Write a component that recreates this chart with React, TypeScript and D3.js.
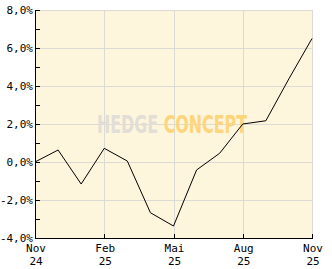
import React from "react";
import * as d3 from "d3";

const months = ["2024-11","2024-12","2025-01","2025-02","2025-03","2025-04","2025-05","2025-06","2025-07","2025-08","2025-09","2025-10","2025-11"];
const values = [0.0, 0.63, -1.16, 0.72, 0.05, -2.67, -3.37, -0.42, 0.46, 2.0, 2.17, 4.38, 6.5];
const yTicks = [-4, -2, 0, 2, 4, 6, 8];
const yMinorTicks = [-3, -1, 1, 3, 5, 7];
const xTickIdx = [0, 3, 6, 9, 12];
const xTickLabels = [["Nov", "24"], ["Feb", "25"], ["Mai", "25"], ["Aug", "25"], ["Nov", "25"]];

const W = 332, H = 269;
const L = 35, R = 312, T = 10, B = 238;

export default function App() {
  const x = d3.scaleLinear().domain([0, months.length - 1]).range([L, R]);
  const y = d3.scaleLinear().domain([-4, 8]).range([B, T]);
  const line = d3.line<number>().x((_, i) => x(i)).y((d) => y(d));
  const fmt = (v: number) => v.toFixed(1).replace(".", ",") + "%";
  const font = "'DejaVu Sans Mono', monospace";
  const grid = "#dcdad4";
  return (
    <svg width={W} height={H} style={{ position: "absolute", left: 0, top: 0 }}>
      <rect x={L} y={T} width={R - L} height={B - T} fill="#fef5dd" />
      {yTicks.map((t) => (
        <line key={"gy" + t} x1={L} x2={R} y1={Math.round(y(t)) + 0.5} y2={Math.round(y(t)) + 0.5} stroke={grid} />
      ))}
      {xTickIdx.map((i) => (
        <line key={"gx" + i} x1={Math.round(x(i)) + 0.5} x2={Math.round(x(i)) + 0.5} y1={T} y2={B} stroke={grid} />
      ))}
      <text x={97} y={133} fontFamily="'DejaVu Sans Condensed', 'DejaVu Sans'" fontWeight="bold" fontSize={25} textLength={150} lengthAdjust="spacingAndGlyphs">
        <tspan fill="#e2ded6">HEDGE</tspan>
        <tspan fill="#fdd57c">{" CONCEPT"}</tspan>
      </text>
      <path d={line(values) || ""} fill="none" stroke="#000" strokeWidth={1} />
      <line x1={L + 0.5} x2={L + 0.5} y1={T} y2={B + 1} stroke="#000" />
      <line x1={L} x2={R + 1} y1={B + 0.5} y2={B + 0.5} stroke="#000" />
      {[...yTicks, ...yMinorTicks].map((t) => (
        <line key={"ty" + t} x1={L} x2={L + 5} y1={Math.round(y(t)) + 0.5} y2={Math.round(y(t)) + 0.5} stroke="#000" />
      ))}
      {xTickIdx.map((i) => (
        <line key={"tx" + i} x1={Math.round(x(i)) + 0.5} x2={Math.round(x(i)) + 0.5} y1={B - 4} y2={B} stroke="#000" />
      ))}
      {yTicks.map((t) => (
        <text key={"ly" + t} x={33} y={y(t) + 4} textAnchor="end" fontFamily={font} fontSize={11} fill="#000">{fmt(t)}</text>
      ))}
      {xTickIdx.map((i, k) => (
        <g key={"lx" + i}>
          <text x={x(i) + 1} y={252} textAnchor="middle" fontFamily={font} fontSize={11} fill="#000">{xTickLabels[k][0]}</text>
          <text x={x(i) + 1} y={265} textAnchor="middle" fontFamily={font} fontSize={11} fill="#000">{xTickLabels[k][1]}</text>
        </g>
      ))}
    </svg>
  );
}
